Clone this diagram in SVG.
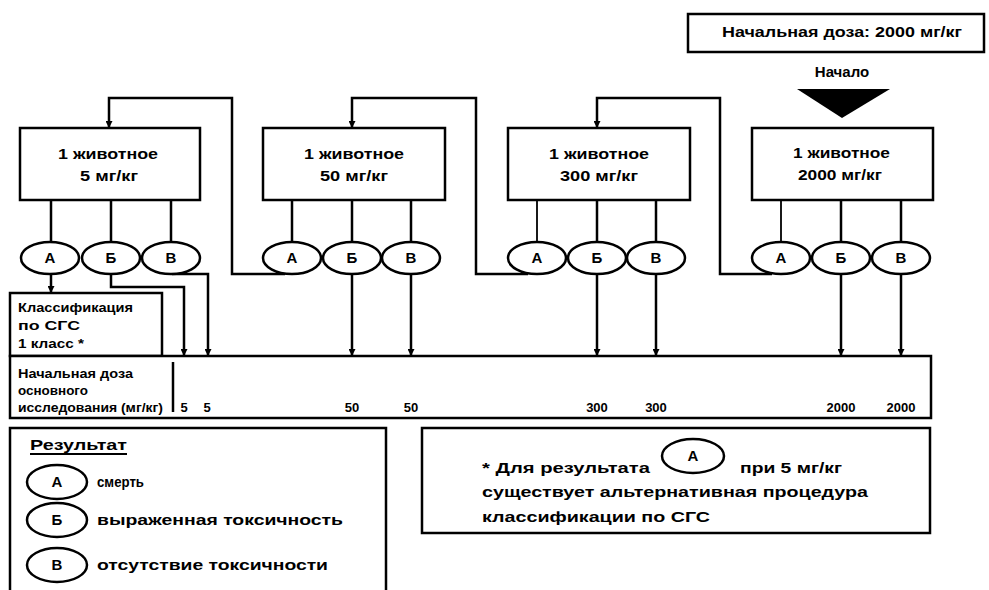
<svg xmlns="http://www.w3.org/2000/svg" width="989" height="590" viewBox="0 0 989 590">
<style>
.box{fill:#fff;stroke:#000;stroke-width:2.5}
.ell{fill:#fff;stroke:#000;stroke-width:2.5}
.ln{fill:none;stroke:#000;stroke-width:2.5}
.thin{fill:none;stroke:#000;stroke-width:1.8}
.arr{fill:none;stroke:#000;stroke-width:2.5;marker-end:url(#ah)}
text{font-family:"Liberation Sans",Arial,sans-serif;font-weight:bold;fill:#000}
.t14{font-size:14px}
.t13{font-size:13px}
.t12{font-size:12px}
.t15{font-size:15px}
.c{text-anchor:middle}
.lt{font-size:15px;text-anchor:middle}
</style>
<defs>
<marker id="ah" viewBox="0 0 8 8" refX="7" refY="4" markerUnits="userSpaceOnUse" markerWidth="8" markerHeight="7" orient="auto">
<path d="M0,0 L8,4 L0,8 Z" fill="#000"/>
</marker>
</defs>
<rect width="989" height="590" fill="#fff"/>

<g id="start-dose">
<rect class="box" x="688" y="14" width="296" height="38"/>
<text class="t14" x="722" y="37" textLength="240" lengthAdjust="spacingAndGlyphs">Начальная доза: 2000 мг/кг</text>
</g>
<g id="start">
<text class="t15 c" x="842" y="77">Начало</text>
<polygon points="797,89 890,89 842,118" fill="#000"/>
</g>

<g id="box1">
<rect class="box" x="20" y="128" width="180" height="72"/>
<text class="t15" x="58" y="159" textLength="100" lengthAdjust="spacingAndGlyphs">1 животное</text>
<text class="t15" x="80" y="181" textLength="58" lengthAdjust="spacingAndGlyphs">5 мг/кг</text>
</g>
<g id="box2">
<rect class="box" x="263" y="128" width="182" height="72"/>
<text class="t15" x="304" y="159" textLength="100" lengthAdjust="spacingAndGlyphs">1 животное</text>
<text class="t15" x="320" y="181" textLength="68" lengthAdjust="spacingAndGlyphs">50 мг/кг</text>
</g>
<g id="box3">
<rect class="box" x="508" y="128" width="182" height="72"/>
<text class="t15" x="549" y="159" textLength="100" lengthAdjust="spacingAndGlyphs">1 животное</text>
<text class="t15" x="560" y="181" textLength="78" lengthAdjust="spacingAndGlyphs">300 мг/кг</text>
</g>
<g id="box4">
<rect class="box" x="752" y="128" width="181" height="72"/>
<text class="t15" x="793" y="158" textLength="97" lengthAdjust="spacingAndGlyphs">1 животное</text>
<text class="t15" x="798" y="180" textLength="84" lengthAdjust="spacingAndGlyphs">2000 мг/кг</text>
</g>

<g id="connectors">
<path class="ln" d="M51,200 V242 M111,200 V242 M171,200 V242"/>
<path class="ln" d="M292,200 V242 M352,200 V242 M411,200 V242"/>
<path class="thin" d="M537,200 V242"/>
<path class="ln" d="M597,200 V242 M656,200 V242"/>
<path class="thin" d="M781,200 V242"/>
<path class="ln" d="M841,200 V242 M901,200 V242"/>
<path class="arr" d="M285,274 H232 V98 H109 V127"/>
<path class="arr" d="M528,274 H476 V98 H352 V127"/>
<path class="arr" d="M772,274 H720 V98 H597 V127"/>
<path class="arr" d="M51,274 V292"/>
<path class="arr" d="M111,274 V287 H184 V355"/>
<path class="arr" d="M172,274 H208 V355"/>
<path class="arr" d="M352,274 V355"/>
<path class="arr" d="M411,274 V355"/>
<path class="arr" d="M597,274 V355"/>
<path class="arr" d="M656,274 V355"/>
<path class="arr" d="M841,274 V355"/>
<path class="arr" d="M901,274 V355"/>
</g>

<g id="res1">
<ellipse class="ell" cx="50" cy="258" rx="29" ry="16"/><text class="lt" x="50" y="263">А</text>
<ellipse class="ell" cx="111" cy="258" rx="29" ry="16"/><text class="lt" x="111" y="263">Б</text>
<ellipse class="ell" cx="171" cy="258" rx="29" ry="16"/><text class="lt" x="171" y="263">В</text>
</g>
<g id="res2">
<ellipse class="ell" cx="292" cy="258" rx="29" ry="16"/><text class="lt" x="292" y="263">А</text>
<ellipse class="ell" cx="352" cy="258" rx="29" ry="16"/><text class="lt" x="352" y="263">Б</text>
<ellipse class="ell" cx="411" cy="258" rx="29" ry="16"/><text class="lt" x="411" y="263">В</text>
</g>
<g id="res3">
<ellipse class="ell" cx="537" cy="258" rx="29" ry="16"/><text class="lt" x="537" y="263">А</text>
<ellipse class="ell" cx="597" cy="258" rx="29" ry="16"/><text class="lt" x="597" y="263">Б</text>
<ellipse class="ell" cx="656" cy="258" rx="29" ry="16"/><text class="lt" x="656" y="263">В</text>
</g>
<g id="res4">
<ellipse class="ell" cx="781" cy="258" rx="29" ry="16"/><text class="lt" x="781" y="263">А</text>
<ellipse class="ell" cx="841" cy="258" rx="29" ry="16"/><text class="lt" x="841" y="263">Б</text>
<ellipse class="ell" cx="901" cy="258" rx="29" ry="16"/><text class="lt" x="901" y="263">В</text>
</g>

<g id="classification">
<rect class="box" x="10" y="293" width="152" height="63"/>
<text class="t13" x="18" y="312" textLength="115" lengthAdjust="spacingAndGlyphs">Классификация</text>
<text class="t13" x="18" y="330" textLength="62" lengthAdjust="spacingAndGlyphs">по СГС</text>
<text class="t13" x="18" y="348" textLength="66" lengthAdjust="spacingAndGlyphs">1 класс *</text>
</g>

<g id="dose-scale">
<rect class="box" x="10" y="356" width="921" height="62"/>
<path class="ln" d="M173,362 V412"/>
<text class="t12" x="18" y="378" textLength="115" lengthAdjust="spacingAndGlyphs">Начальная доза</text>
<text class="t12" x="18" y="395" textLength="70" lengthAdjust="spacingAndGlyphs">основного</text>
<text class="t12" x="18" y="412" textLength="145" lengthAdjust="spacingAndGlyphs">исследования (мг/кг)</text>
<text class="t13 c" x="184" y="412">5</text>
<text class="t13 c" x="207" y="412">5</text>
<text class="t13 c" x="352" y="412">50</text>
<text class="t13 c" x="411" y="412">50</text>
<text class="t13 c" x="597" y="412">300</text>
<text class="t13 c" x="656" y="412">300</text>
<text class="t13 c" x="841" y="412">2000</text>
<text class="t13 c" x="901" y="412">2000</text>
</g>

<g id="legend">
<rect class="box" x="10" y="428" width="376" height="170"/>
<text class="t14" x="30" y="450" textLength="97" lengthAdjust="spacingAndGlyphs">Результат</text>
<path class="thin" d="M30,454 H127"/>
<ellipse class="ell" cx="57" cy="482" rx="30" ry="17"/><text class="lt" x="57" y="487">А</text>
<text class="t14" x="97" y="487" textLength="47" lengthAdjust="spacingAndGlyphs">смерть</text>
<ellipse class="ell" cx="57" cy="520" rx="30" ry="17"/><text class="lt" x="57" y="525">Б</text>
<text class="t14" x="97" y="525" textLength="246" lengthAdjust="spacingAndGlyphs">выраженная токсичность</text>
<ellipse class="ell" cx="57" cy="565" rx="30" ry="17"/><text class="lt" x="57" y="570">В</text>
<text class="t14" x="97" y="570" textLength="231" lengthAdjust="spacingAndGlyphs">отсутствие токсичности</text>
</g>

<g id="note">
<rect class="box" x="422" y="428" width="508" height="105"/>
<text class="t15" x="482" y="473" textLength="168" lengthAdjust="spacingAndGlyphs">* Для результата</text>
<ellipse class="ell" cx="693" cy="456" rx="31" ry="17"/><text class="lt" x="693" y="461">А</text>
<text class="t15" x="740" y="473" textLength="102" lengthAdjust="spacingAndGlyphs">при 5 мг/кг</text>
<text class="t15" x="482" y="497" textLength="386" lengthAdjust="spacingAndGlyphs">существует альтернативная процедура</text>
<text class="t15" x="482" y="522" textLength="228" lengthAdjust="spacingAndGlyphs">классификации по СГС</text>
</g>
</svg>
